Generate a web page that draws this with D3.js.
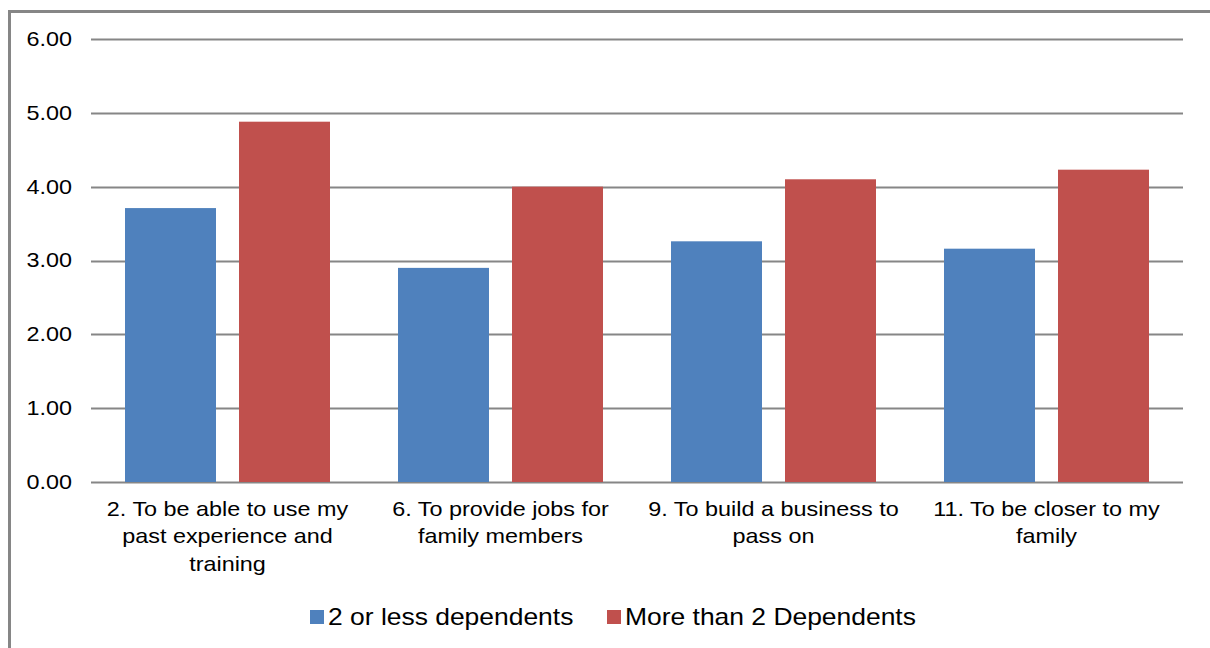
<!DOCTYPE html>
<html>
<head>
<meta charset="utf-8">
<script src="https://cdn.jsdelivr.net/npm/d3@7"></script>
<style>
  body { margin: 0; background: #fff; }
  svg text { font-family: "Liberation Sans", Arial, sans-serif; fill: #000; }
</style>
</head>
<body>
<script>
// data
var categories = [
    ["2. To be able to use my", "past experience and", "training"],
    ["6. To provide jobs for", "family members"],
    ["9. To build a business to", "pass on"],
    ["11. To be closer to my", "family"]
];
var seriesNames = ["2 or less dependents", "More than 2 Dependents"];
var seriesColors = ["#4f81bd", "#c0504d"];
var lessDeps = [3.71, 2.90, 3.26, 3.16];
var moreDeps = [4.88, 4.00, 4.10, 4.23];
var yTicks = [0, 1, 2, 3, 4, 5, 6];

var W = 1210, H = 648;
var margin = { top: 39, left: 91, right: 27, bottom: 166 };
var width = W - margin.left - margin.right,
    height = H - margin.top - margin.bottom;
var stretch = 1.17; // text in the picture is a bit wide

var svg = d3.select("body").append("svg")
    .attr("width", W)
    .attr("height", H);

// outer frame (left + top only visible)
svg.append("path")
    .attr("d", "M9.5,648 V11.5 H1210")
    .attr("fill", "none")
    .attr("stroke", "#868686")
    .attr("stroke-width", 3);

var g = svg.append("g")
    .attr("transform", "translate(" + margin.left + "," + margin.top + ")");

var x = d3.scaleBand()
    .domain(d3.range(categories.length))
    .range([0, width]);

var y = d3.scaleLinear()
    .domain([0, 6])
    .range([height, 0]);

// gridlines
g.append("g")
    .selectAll("line")
    .data(yTicks)
    .enter().append("line")
    .attr("x1", 0)
    .attr("x2", width)
    .attr("y1", function(d) { return Math.round(y(d)) + 0.5; })
    .attr("y2", function(d) { return Math.round(y(d)) + 0.5; })
    .attr("stroke", "#868686")
    .attr("stroke-width", 2);

// y-axis labels
var yAxis = d3.axisLeft(y).tickValues(yTicks).tickSize(0).tickPadding(0)
    .tickFormat(d3.format(".2f"));
g.append("g")
    .call(yAxis)
    .call(function(a) { a.select(".domain").remove(); })
    .selectAll("text")
    .attr("x", -19 / stretch)
    .attr("transform", "scale(" + stretch + ",1)")
    .style("font-size", "20px")
    .attr("font-family", null);

// bars
var pad = 34, bw = 91, gap = 23;
var series = [lessDeps, moreDeps];
series.forEach(function(vals, s) {
    g.append("g")
        .selectAll("rect")
        .data(vals)
        .enter().append("rect")
        .attr("x", function(d, i) { return x(i) + pad + s * (bw + gap); })
        .attr("y", function(d) { return y(d); })
        .attr("width", bw)
        .attr("height", function(d) { return height - y(d); })
        .attr("fill", seriesColors[s]);
});

// category labels
var lab = g.append("g")
    .selectAll("text")
    .data(categories)
    .enter().append("text")
    .attr("text-anchor", "middle")
    .style("font-size", "20px")
    .attr("transform", function(d, i) {
        return "translate(" + (x(i) + x.bandwidth() / 2) + "," + (height + 34) + ") scale(" + stretch + ",1)";
    });
lab.selectAll("tspan")
    .data(function(d) { return d; })
    .enter().append("tspan")
    .attr("x", 0)
    .attr("y", function(d, i) { return i * 27.5; })
    .text(function(d) { return d; });

// legend
var legendX = [310, 607];
var leg = svg.append("g")
    .selectAll("g")
    .data(seriesNames)
    .enter().append("g")
    .attr("transform", function(d, i) { return "translate(" + legendX[i] + ",617)"; });
leg.append("rect")
    .attr("x", 0)
    .attr("y", -7)
    .attr("width", 14)
    .attr("height", 14)
    .attr("fill", function(d, i) { return seriesColors[i]; });
leg.append("text")
    .attr("transform", "translate(18,8) scale(1.15,1)")
    .style("font-size", "23px")
    .text(function(d) { return d; });
</script>
</body>
</html>
